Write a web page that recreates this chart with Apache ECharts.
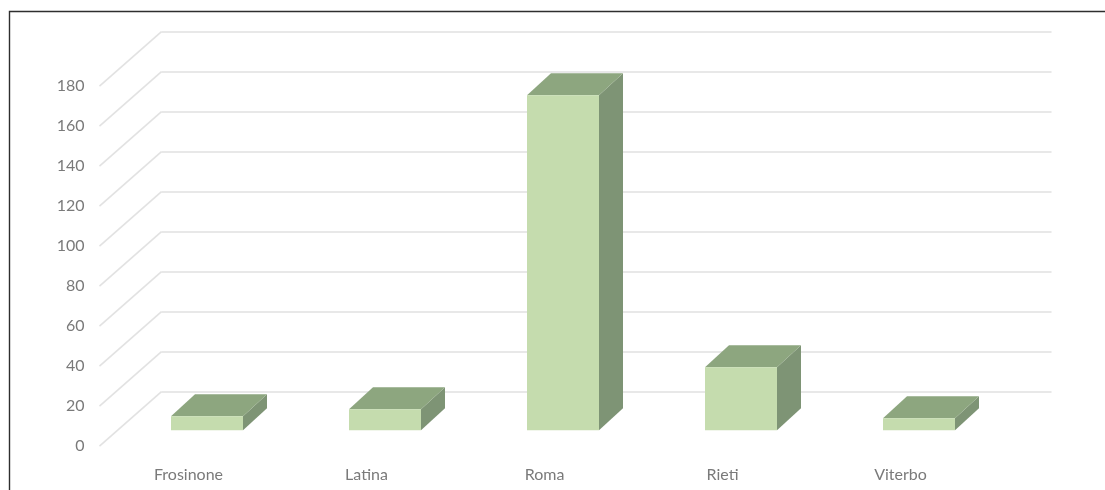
<!DOCTYPE html>
<html>
<head>
<meta charset="utf-8">
<style>html,body{margin:0;padding:0;background:#fff}#c{width:1105px;height:490px;filter:blur(0.5px)}</style>
<script src="https://cdn.jsdelivr.net/npm/echarts@6/dist/echarts.min.js"></script>
</head>
<body>
<div id="c"></div>
<script>
var categories = ['Frosinone', 'Latina', 'Roma', 'Rieti', 'Viterbo'];
var values = [7, 10.5, 167.5, 31.5, 6];
var yTicks = [0, 20, 40, 60, 80, 100, 120, 140, 160, 180];

var WALL = { dx: 62, dy: 54.5 };
var BAR = { startX: 18.5, startY: 16, dx: 24, dy: 22, width: 72 };

var chart = echarts.init(document.getElementById('c'), null, { renderer: 'canvas' });

function slantItem(params, api) {
  var p = api.coord([0, api.value(0)]);
  var x = p[0] - api.size([1, 0])[0] / 2;
  return {
    type: 'line',
    shape: { x1: x, y1: p[1], x2: x + WALL.dx, y2: p[1] - WALL.dy },
    style: { stroke: '#e2e2e2', lineWidth: 1.6, fill: null }
  };
}

function barItem(params, api) {
  var base = api.coord([api.value(0), 0]);
  var top = api.coord([api.value(0), api.value(1)]);
  var l = base[0] - BAR.width / 2 + BAR.startX;
  var r = l + BAR.width;
  var b = base[1] - BAR.startY;
  var t = top[1] - BAR.startY;
  var dx = BAR.dx, dy = BAR.dy;
  return {
    type: 'group',
    children: [
      { type: 'polygon', shape: { points: [[r, b], [r + dx, b - dy], [r + dx, t - dy], [r, t]] }, style: { fill: '#7e9475' } },
      { type: 'polygon', shape: { points: [[l, t], [r, t], [r + dx, t - dy], [l + dx, t - dy]] }, style: { fill: '#8da67f' } },
      { type: 'rect', shape: { x: l, y: t, width: BAR.width, height: b - t }, style: { fill: '#c5dcae' } }
    ]
  };
}

chart.setOption({
  animation: false,
  backgroundColor: '#fff',
  grid: [
    { left: 161.5, top: 31.7, width: 890, height: 360 },
    { left: 99.5, top: 86.2, width: 890, height: 360 }
  ],
  xAxis: [
    { gridIndex: 0, type: 'category', data: categories, axisLine: { show: false }, axisTick: { show: false }, axisLabel: { show: false }, splitLine: { show: false } },
    { gridIndex: 1, type: 'category', data: categories, axisLine: { show: false }, axisTick: { show: false }, splitLine: { show: false },
      axisLabel: { color: '#7a7a7a', fontFamily: 'Lato', fontSize: 16, margin: 21 } }
  ],
  yAxis: [
    { gridIndex: 0, type: 'value', min: 0, max: 180, interval: 20, axisLine: { show: false }, axisTick: { show: false }, axisLabel: { show: false },
      splitLine: { show: true, lineStyle: { color: '#e0e0e0', width: 1.6 } } },
    { gridIndex: 1, type: 'value', min: 0, max: 180, interval: 20, axisLine: { show: false }, axisTick: { show: false }, splitLine: { show: false },
      axisLabel: { color: '#7a7a7a', fontFamily: 'Lato', fontSize: 16, margin: 15 } }
  ],
  series: [
    { type: 'custom', xAxisIndex: 1, yAxisIndex: 1, coordinateSystem: 'cartesian2d', encode: { y: 0 }, data: yTicks.map(function (v) { return [v]; }), renderItem: slantItem, z: 1, silent: true },
    { type: 'custom', xAxisIndex: 1, yAxisIndex: 1, coordinateSystem: 'cartesian2d', encode: { x: 0, y: 1 }, data: values.map(function (v, i) { return [i, v]; }), renderItem: barItem, z: 5, silent: true }
  ],
  graphic: [
    { type: 'polyline', silent: true, shape: { points: [[9.5, 490], [9.5, 11.5], [1105, 11.5]] }, style: { stroke: '#2e2e2e', lineWidth: 1.4, fill: null } }
  ]
});
</script>
</body>
</html>
